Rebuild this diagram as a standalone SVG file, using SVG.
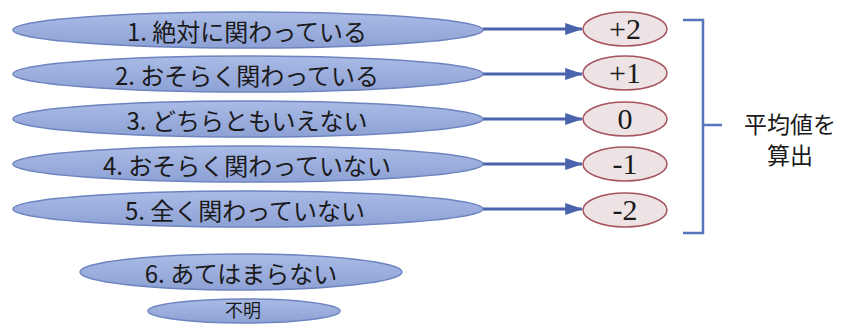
<svg xmlns="http://www.w3.org/2000/svg" width="841" height="325" viewBox="0 0 841 325">
<style>
.bl{fill:url(#bg);stroke:#6d84bf;stroke-width:1.5}
.rd{fill:#ede3e5;stroke:#a5545d;stroke-width:1.5}
.jt{font-family:"Noto Sans CJK JP","Noto Sans",sans-serif;font-size:24px;fill:#1a1a1a;text-anchor:middle}
.nt{font-family:"Liberation Serif",serif;font-size:30px;fill:#1a1a1a;text-anchor:middle}
.ar{stroke:#4b63ad;stroke-width:3;fill:none;marker-end:url(#ah)}
.br{stroke:#5876bb;stroke-width:2.5;fill:none}
</style>
<defs>
<linearGradient id="bg" x1="0" y1="0" x2="0" y2="1">
<stop offset="0" stop-color="#a9bbe5"/>
<stop offset="1" stop-color="#8da1d5"/>
</linearGradient>
<marker id="ah" markerWidth="6" markerHeight="4" refX="5.6" refY="2" orient="auto" markerUnits="strokeWidth">
<path d="M0,0 L6,2 L0,4 z" fill="#4b63ad"/>
</marker>
</defs>
<rect width="841" height="325" fill="#ffffff"/>
<g id="connectors">
<line class="ar" x1="483" y1="29" x2="582" y2="29"/>
<line class="ar" x1="483" y1="74" x2="582" y2="74"/>
<line class="ar" x1="483" y1="119" x2="582" y2="119"/>
<line class="ar" x1="483" y1="164" x2="582" y2="164"/>
<line class="ar" x1="483" y1="209" x2="582" y2="209"/>
</g>
<g id="bracket">
<path class="br" d="M683,20 L703,20 L703,233 L683,233 M703,125 L722,125"/>
</g>
<g id="n1"><ellipse class="bl" cx="248" cy="30" rx="235" ry="18"/><text class="jt" x="247" y="41">1. 絶対に関わっている</text></g>
<g id="n2"><ellipse class="bl" cx="248" cy="74" rx="235" ry="18"/><text class="jt" x="247" y="85">2. おそらく関わっている</text></g>
<g id="n3"><ellipse class="bl" cx="248" cy="119" rx="235" ry="18"/><text class="jt" x="247" y="130">3. どちらともいえない</text></g>
<g id="n4"><ellipse class="bl" cx="248" cy="164" rx="235" ry="18"/><text class="jt" x="247" y="175">4. おそらく関わっていない</text></g>
<g id="n5"><ellipse class="bl" cx="248" cy="209" rx="235" ry="18"/><text class="jt" x="245" y="220">5. 全く関わっていない</text></g>
<g id="n6"><ellipse class="bl" cx="241" cy="272" rx="161" ry="18"/><text class="jt" x="241" y="283">6. あてはまらない</text></g>
<g id="n7"><ellipse class="bl" cx="244" cy="311" rx="96" ry="12"/><text class="jt" x="243" y="317" style="font-size:18px">不明</text></g>
<g id="v1"><ellipse class="rd" cx="625" cy="29" rx="42" ry="17"/><text class="nt" x="625" y="39">+2</text></g>
<g id="v2"><ellipse class="rd" cx="625" cy="73" rx="42" ry="17"/><text class="nt" x="625" y="83">+1</text></g>
<g id="v3"><ellipse class="rd" cx="625" cy="119" rx="42" ry="17"/><text class="nt" x="625" y="129">0</text></g>
<g id="v4"><ellipse class="rd" cx="625" cy="164" rx="42" ry="17"/><text class="nt" x="625" y="174">-1</text></g>
<g id="v5"><ellipse class="rd" cx="625" cy="210" rx="42" ry="17"/><text class="nt" x="625" y="220">-2</text></g>
<g id="label"><text class="jt" style="font-size:23px" x="790" y="133">平均値を</text><text class="jt" style="font-size:23px" x="790" y="164">算出</text></g>
</svg>
